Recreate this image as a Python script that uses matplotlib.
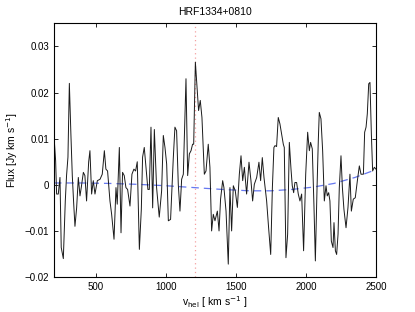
import numpy as np
import matplotlib
matplotlib.use('Agg')
from matplotlib import pyplot as plt

plt.rcParams['font.family'] = ['Liberation Sans', 'DejaVu Sans']

#Espectro (velocidad heliocentrica en km/s, flujo en Jy km/s)
vel = [200, 212, 219, 231, 243, 252, 267, 281, 290, 300, 310, 321, 331, 340, 350,
       362, 374, 386, 395, 410, 421, 433, 448, 457, 469, 481, 493, 510, 529, 545,
       560, 571, 583, 600, 612, 629, 643, 652, 667, 679, 690, 702, 714, 726, 743,
       757, 771, 783, 795, 810, 824, 833, 845, 860, 871, 881, 893, 905, 917, 933,
       952, 969, 981, 993, 1005, 1017, 1033, 1052, 1064, 1076, 1088, 1100, 1112,
       1124, 1143, 1155, 1167, 1179, 1190, 1198, 1210, 1221, 1233, 1245, 1257,
       1274, 1286, 1302, 1314, 1326, 1338, 1350, 1367, 1379, 1390, 1405, 1414,
       1429, 1445, 1457, 1469, 1481, 1495, 1510, 1524, 1536, 1548, 1560, 1576,
       1593, 1607, 1619, 1631, 1648, 1664, 1676, 1688, 1700, 1719, 1733, 1748,
       1760, 1771, 1779, 1790, 1802, 1814, 1826, 1838, 1845, 1857, 1869, 1881,
       1893, 1902, 1912, 1921, 1933, 1945, 1957, 1969, 1983, 1998, 2012, 2024,
       2033, 2045, 2057, 2067, 2079, 2088, 2095, 2107, 2119, 2131, 2143, 2152,
       2162, 2171, 2181, 2193, 2200, 2210, 2219, 2229, 2238, 2250, 2260, 2271,
       2286, 2300, 2314, 2324, 2338, 2352, 2367, 2381, 2393, 2410, 2419, 2429,
       2438, 2448, 2457, 2467, 2476, 2488, 2500]
flux = [0.0107, 0.0052, -0.0020, -0.0020, 0.0016, -0.0136, -0.0160, -0.0035, 0.0020,
        0.0060, 0.0220, 0.0110, 0.0020, -0.0035, -0.0090, -0.0050, 0.0016, -0.0024,
        -0.0006, 0.0027, 0.0020, -0.0035, 0.0050, 0.0074, -0.0020, 0.0009, -0.0020,
        0.0009, 0.0012, 0.0023, 0.0074, 0.0034, 0.0030, -0.0035, -0.0064, -0.0118,
        -0.0006, -0.0042, 0.0081, -0.0104, 0.0027, 0.0020, -0.0006, -0.0010, -0.0046,
        0.0023, 0.0034, 0.0030, 0.0050, -0.0140, -0.0053, 0.0060, 0.0081, 0.0030,
        -0.0010, -0.0010, 0.0125, -0.0050, 0.0120, -0.0006, -0.0070,
        -0.0013, 0.0107, 0.0081, 0.0045, -0.0078, -0.0075, 0.0056, 0.0125, 0.0117,
        0.0001, -0.0057, 0.0012, 0.0023, 0.0230, 0.0020, 0.0067, 0.0074, 0.0088,
        0.0088, 0.0266, 0.0215, 0.0161, 0.0183, 0.0146, 0.0023, 0.0030, 0.0088,
        0.0038, -0.0100, -0.0064, -0.0078, -0.0057, -0.0100, -0.0031, 0.0009,
        -0.0006, -0.0057, -0.0172, -0.0006, -0.0100, -0.0002, -0.0013, -0.0049,
        0.0023, 0.0063, 0.0009, 0.0038, -0.0020, 0.0049, 0.0009, -0.0035, 0.0001,
        0.0016, 0.0049, 0.0009, 0.0059, 0.0016,
        -0.0035, -0.0093, -0.0151, -0.0006, 0.0081, 0.0085, 0.0083, 0.0146, 0.0132,
        0.0110, 0.0088, 0.0081, -0.0158, -0.0107, 0.0092, 0.0034, -0.0002, -0.0017,
        0.0005, 0.0005, -0.0020, -0.0035, -0.0020, -0.0143, 0.0023, 0.0114, 0.0074,
        0.0092, 0.0078, -0.0046, -0.0165, -0.0006, 0.0096, 0.0157, 0.0143, 0.0074,
        -0.0035, -0.0002, -0.0024, -0.0017, -0.0035, -0.0122, -0.0136, -0.0082,
        -0.0143, -0.0151, -0.0107, -0.0006, 0.0063, -0.0006, -0.0053, -0.0093,
        -0.0049, 0.0023, -0.0057, -0.0031, -0.0028, 0.0009, 0.0041, 0.0023, 0.0023,
        0.0114, 0.0125, 0.0154, 0.0219, 0.0222, 0.0110, 0.0030, 0.0038, 0.0034]

#Linea base ajustada (discontinua azul)
vel_base = [200, 400, 600, 800, 1000, 1200, 1400, 1600, 1750, 1900, 2050, 2200, 2350, 2500]
flux_base = [0.0004, 0.0004, 0.0003, 0.0001, -0.0002, -0.0006, -0.0010, -0.0013,
             -0.0013, -0.0010, -0.0005, 0.0003, 0.0016, 0.0033]

v_centro = 1210  #velocidad del sistema

fig = plt.figure(figsize=(4.15, 3.12), dpi=100)
ax = fig.add_axes([0.130, 0.112, 0.776, 0.813])

ax.axvline(v_centro, color='#f4a0a0', linestyle=(0, (1, 2.5)), linewidth=0.9)
ax.plot(vel_base, flux_base, color='#6678f0', linestyle=(0, (6, 4)), linewidth=0.9)
ax.plot(vel, flux, color='#1a1a1a', linewidth=0.7)

ax.set_xlim([200, 2500])
ax.set_ylim([-0.02, 0.035])
ax.set_xticks([500, 1000, 1500, 2000, 2500])
ax.set_yticks([-0.02, -0.01, 0, 0.01, 0.02, 0.03])
ax.set_yticklabels(['\u22120.02', '\u22120.01', '0', '0.01', '0.02', '0.03'])
ax.tick_params(direction='in', top=True, right=True, labelsize=7, length=3, width=0.6)
for s in ax.spines.values():
    s.set_linewidth(0.8)

ax.set_title('HRF1334+0810', fontsize=7.5, pad=6)
ax.set_xlabel(r'v$_{\rm hel}$ [ km s$^{-1}$ ]', fontsize=7.5, labelpad=2)
ax.set_ylabel(r'Flux [Jy km s$^{-1}$]', fontsize=7.5, labelpad=3)

fig.savefig('out.png', dpi=100)
